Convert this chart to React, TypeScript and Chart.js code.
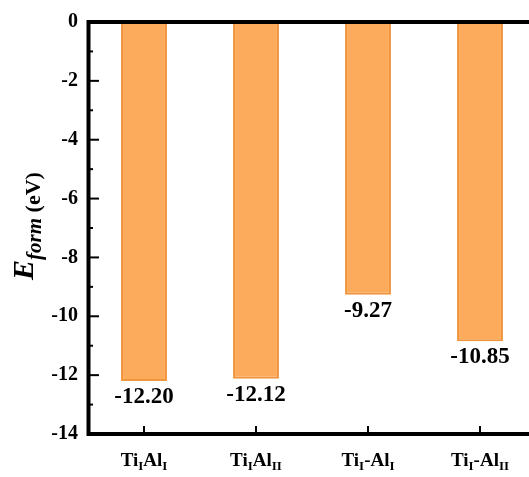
import React, { useEffect, useRef } from 'react';
import { Chart, registerables } from 'chart.js';

Chart.register(...registerables);

// ---- data ----
const categories = ['Ti_{I}Al_{I}', 'Ti_{I}Al_{II}', 'Ti_{I}-Al_{I}', 'Ti_{I}-Al_{II}'];
const formationEnergies = [-12.2, -12.12, -9.27, -10.85];
const yMin = -14;
const yMax = 0;
const yStep = 2;
const yTitle = [
  { t: 'E', font: 'italic bold 30px', dy: 0 },
  { t: 'form', font: 'italic bold 21px', dy: 8 },
  { t: ' (eV)', font: 'bold 22px', dy: 7 },
];

const SERIF = '"Liberation Serif", "Times New Roman", serif';

type Seg = { t: string; sub: boolean };
function parseMarkup(s: string): Seg[] {
  const segs: Seg[] = [];
  const re = /_\{([^}]*)\}|([^_]+)/g;
  let m: RegExpExecArray | null;
  while ((m = re.exec(s))) {
    if (m[1] !== undefined) segs.push({ t: m[1], sub: true });
    else segs.push({ t: m[2], sub: false });
  }
  return segs;
}

const decor = {
  id: 'decor',
  afterDatasetsDraw(chart: any) {
    const { ctx, chartArea: a, scales } = chart;
    const xs = scales.x;
    const ys = scales.y;
    ctx.save();

    // value labels under bars
    const meta = chart.getDatasetMeta(0);
    ctx.fillStyle = '#000';
    ctx.font = `bold 23px ${SERIF}`;
    ctx.textAlign = 'center';
    ctx.textBaseline = 'middle';
    meta.data.forEach((el: any, i: number) => {
      ctx.fillText(formationEnergies[i].toFixed(2), el.x, el.y + 16);
    });

    // inward ticks
    ctx.strokeStyle = '#000';
    ctx.lineWidth = 2;
    ctx.lineCap = 'butt';
    for (let v = yMin + 1; v < yMax; v += 1) {
      const py = ys.getPixelForValue(v);
      const len = v % 2 === 0 ? 11 : 5;
      ctx.beginPath();
      ctx.moveTo(a.left, py);
      ctx.lineTo(a.left + len, py);
      ctx.stroke();
    }
    categories.forEach((_, i) => {
      const px = xs.getPixelForValue(i);
      ctx.beginPath();
      ctx.moveTo(px, a.bottom);
      ctx.lineTo(px, a.bottom - 8);
      ctx.stroke();
    });

    // frame
    ctx.lineWidth = 4;
    ctx.strokeRect(a.left + 0.5, a.top, a.right - a.left, a.bottom - a.top);

    // x category labels with subscripts
    ctx.textAlign = 'left';
    ctx.textBaseline = 'alphabetic';
    const mainFont = `bold 19px ${SERIF}`;
    const subFont = `bold 13px ${SERIF}`;
    categories.forEach((c, i) => {
      const segs = parseMarkup(c);
      let w = 0;
      segs.forEach((s) => {
        ctx.font = s.sub ? subFont : mainFont;
        w += ctx.measureText(s.t).width;
      });
      let x = xs.getPixelForValue(i) - w / 2;
      const base = 466;
      segs.forEach((s) => {
        ctx.font = s.sub ? subFont : mainFont;
        ctx.fillText(s.t, x, base + (s.sub ? 4 : 0));
        x += ctx.measureText(s.t).width;
      });
    });

    // y title (rotated)
    ctx.rotate(-Math.PI / 2);
    let total = 0;
    yTitle.forEach((s) => {
      ctx.font = `${s.font} ${SERIF}`;
      total += ctx.measureText(s.t).width;
    });
    let lx = -226 - total / 2;
    yTitle.forEach((s) => {
      ctx.font = `${s.font} ${SERIF}`;
      ctx.fillText(s.t, lx, 33 + s.dy);
      lx += ctx.measureText(s.t).width;
    });

    ctx.restore();
  },
};

export default function App() {
  const ref = useRef<HTMLCanvasElement | null>(null);

  useEffect(() => {
    if (!ref.current) return;
    const chart = new Chart(ref.current, {
      type: 'bar',
      data: {
        labels: categories,
        datasets: [
          {
            data: formationEnergies,
            backgroundColor: '#FCAA5C',
            borderColor: '#F0963E',
            borderWidth: 2,
            barPercentage: 0.41,
            categoryPercentage: 1,
          },
        ],
      },
      options: {
        animation: false,
        responsive: false,
        devicePixelRatio: 1,
        layout: { padding: { top: 12, right: 24, left: 0, bottom: 0 } },
        plugins: { legend: { display: false }, tooltip: { enabled: false } },
        scales: {
          x: {
            grid: { display: false, drawTicks: false },
            border: { display: false },
            ticks: { display: false },
            afterFit: (s: any) => {
              s.height = 43;
            },
          },
          y: {
            min: yMin,
            max: yMax,
            grid: { display: false, drawTicks: false, tickLength: 0 },
            border: { display: false },
            ticks: {
              stepSize: yStep,
              padding: 10,
              color: '#000',
              font: { family: SERIF, size: 20, weight: 700 },
            },
            afterFit: (s: any) => {
              s.width = 88;
            },
          },
        },
      },
      plugins: [decor],
    });
    return () => chart.destroy();
  }, []);

  return (
    <div
      style={{
        position: 'absolute',
        left: 0,
        top: 0,
        width: 529,
        height: 477,
        overflow: 'hidden',
        background: '#fff',
      }}
    >
      <canvas ref={ref} width={560} height={477} style={{ display: 'block' }} />
    </div>
  );
}
